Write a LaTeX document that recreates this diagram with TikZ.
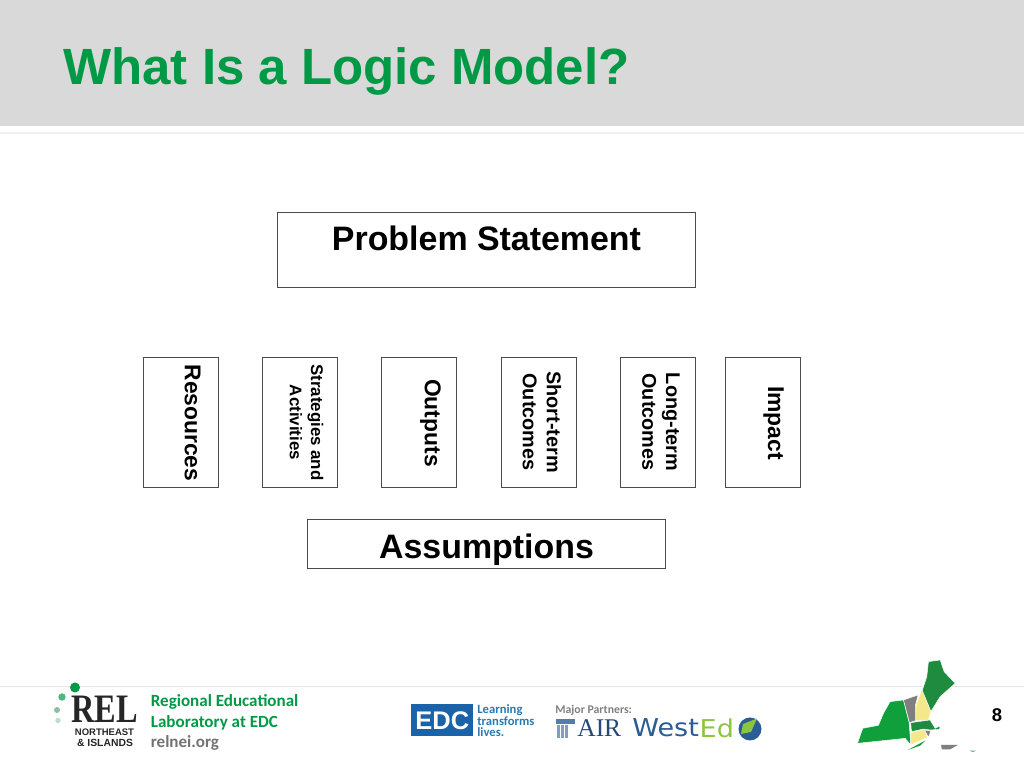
\documentclass[tikz,border=0pt]{standalone}
\usepackage{fontspec}
\setmainfont{Liberation Sans}
\newfontfamily\carlito{Carlito}
\newfontfamily\serifair{Liberation Serif}
\newfontfamily\dejavu{DejaVu Sans}
\definecolor{headergray}{HTML}{D9D9D9}
\definecolor{titlegreen}{HTML}{009A46}
\definecolor{mapdark}{HTML}{1E8B3F}
\definecolor{mapgreen}{HTML}{0FA03C}
\definecolor{mapyellow}{HTML}{F5E88A}
\definecolor{mapgray}{HTML}{7F7F7F}
\definecolor{edcblue}{HTML}{1B63A8}
\definecolor{learnblue}{HTML}{2A7AB0}
\definecolor{westblue}{HTML}{2C5C94}
\definecolor{westgreen}{HTML}{8CC63F}
\tikzset{
  boxnode/.style={draw=black!70,line width=0.6pt,fill=white,inner sep=0pt},
  vertbox/.style={boxnode,anchor=north west,minimum width=1.49cm,minimum height=2.6cm},
  vertlabel/.style={rotate=-90,font=\bfseries\fontsize{13pt}{15pt}\selectfont,align=center,inner sep=0pt},
  vertsmall/.style={vertlabel,font=\bfseries\fontsize{9.6pt}{12pt}\selectfont},
  vertmedium/.style={vertlabel,font=\bfseries\fontsize{11.3pt}{13.6pt}\selectfont},
  bigtext/.style={anchor=base,font=\bfseries\fontsize{19.3pt}{21pt}\selectfont},
  footnode/.style={anchor=west,inner sep=0pt,font=\carlito\bfseries\fontsize{9.7pt}{11pt}\selectfont},
  relnode/.style={inner sep=0pt,font=\bfseries\fontsize{5.4pt}{6pt}\selectfont,text=black!85},
  westnode/.style={anchor=west,xscale=1.1,font=\dejavu\fontsize{14pt}{14pt}\selectfont},
  mapstate/.style={draw=white,line width=0.25pt},
}
\begin{document}
\begin{tikzpicture}[inner sep=0pt]
  \useasboundingbox (0,0) rectangle (20.48,15.36);
  \fill[white] (0,0) rectangle (20.48,15.36);

  % header band
  \fill[headergray] (0,12.84) rectangle (20.48,15.36);
  \fill[black!6] (0,12.68) rectangle (20.48,12.72);
  \node[anchor=base west,text=titlegreen,font=\bfseries\fontsize{29pt}{31pt}\selectfont] (title) at (1.26,13.66) {What Is a Logic Model?};

  % diagram boxes
  \node[boxnode,anchor=north west,minimum width=8.36cm,minimum height=1.5cm] (problem) at (5.54,11.12) {};
  \node[bigtext] (problemtext) at (9.73,10.34) {Problem Statement};

  \node[vertbox] (resources) at (2.86,8.22) {};
  \node[vertbox] (strategies) at (5.24,8.22) {};
  \node[vertbox] (outputs) at (7.62,8.22) {};
  \node[vertbox] (shortterm) at (10.02,8.22) {};
  \node[vertbox] (longterm) at (12.4,8.22) {};
  \node[vertbox] (impact) at (14.5,8.22) {};

  \node[vertlabel] (resourcestext) at (3.85,6.9) {Resources};
  \node[vertsmall] (strategiestext) at (6.13,6.91) {Strategies and\\Activities};
  \node[vertlabel] (outputstext) at (8.61,6.9) {Outputs};
  \node[vertmedium] (shorttermtext) at (10.84,6.92) {Short-term\\Outcomes};
  \node[vertmedium] (longtermtext) at (13.22,6.92) {Long-term\\Outcomes};
  \node[vertlabel] (impacttext) at (15.47,6.9) {Impact};

  \node[boxnode,anchor=north west,minimum width=7.16cm,minimum height=0.98cm] (assumptions) at (6.14,4.98) {};
  \node[bigtext] (assumptionstext) at (9.73,4.18) {Assumptions};

  % footer
  \fill[black!10] (0,1.61) rectangle (20.48,1.63);

  % REL logo
  \fill[titlegreen] (1.5,1.61) circle (0.1);
  \fill[titlegreen!70!white] (1.24,1.42) circle (0.074);
  \fill[black!25!titlegreen!45!white] (1.14,1.16) circle (0.06);
  \fill[black!25!titlegreen!25!white] (1.16,0.95) circle (0.054);
  \node[relnode,font=\serifair\bfseries\fontsize{23pt}{24pt}\selectfont,xscale=.8] (rel) at (2.09,1.17) {REL};
  \node[relnode] (relnortheast) at (2.09,0.72) {NORTHEAST};
  \node[relnode,font=\bfseries\fontsize{5.9pt}{6pt}\selectfont] (relislands) at (2.1,0.5) {\& ISLANDS};
  \node[footnode,text=titlegreen] (regional) at (3.01,1.33) {Regional Educational};
  \node[footnode,text=titlegreen] (laboratory) at (3.01,0.91) {Laboratory at EDC};
  \node[footnode,text=black!55] (relnei) at (3.01,0.51) {relnei.org};

  % EDC logo
  \node[fill=edcblue,text=white,anchor=north west,minimum width=1.24cm,minimum height=0.64cm,font=\bfseries\fontsize{14.5pt}{15pt}\selectfont] (edc) at (8.22,1.28) {EDC};
  \node[anchor=west,align=left,text=learnblue,font=\carlito\bfseries\fontsize{7.2pt}{6.6pt}\selectfont] (learning) at (9.54,0.946) {Learning\\transforms\\lives.};

  % partners
  \node[anchor=west,text=black!50,font=\carlito\bfseries\fontsize{6.7pt}{7pt}\selectfont] (partners) at (11.1,1.16) {Major Partners:};
  \fill[westblue!80!white] (11.12,0.88) rectangle (11.5,0.98);
  \foreach \x in {11.14,11.22,11.3}
    \fill[westblue!60!white] (\x,0.6) rectangle (\x+0.06,0.86);
  \node[anchor=west,text=westblue!80!black,font=\serifair\fontsize{14.5pt}{15pt}\selectfont] (air) at (11.54,0.8) {AIR};
  \node[westnode,text=westblue] (west) at (12.64,0.8) {West};
  \node[westnode,text=westgreen] (ed) at (west.east) {Ed};
  \fill[westblue] (15,0.78) circle (0.23);
  \fill[westgreen] (14.86,0.88) -- (15.14,0.99) -- (15.02,0.72) -- (14.82,0.68) -- cycle;

  % map of the northeast
  \begin{scope}[x=0.00667cm,y=-0.00667cm,shift={(2520,-354)}]
    % zoom coordinates of the crop, 3 units to a pixel
    \fill[mapgreen,mapstate] (150,155) -- (190,150) -- (207,218) -- (212,285) -- (195,265) -- (52,280) -- (68,235) -- (115,226) -- (130,190) -- cycle;
    \fill[mapgreen] (203,300) -- (255,272) -- (240,287) -- cycle;
    \fill[mapdark,mapstate] (265,35) -- (300,30) -- (312,65) -- (345,100) -- (300,140) -- (272,185) -- (262,160) -- (245,125) -- (260,80) -- cycle;
    \fill[mapyellow,mapstate] (245,118) -- (262,160) -- (272,185) -- (265,210) -- (226,212) -- (228,165) -- cycle;
    \fill[mapgray,mapstate] (190,150) -- (234,135) -- (226,165) -- (226,212) -- (208,218) -- cycle;
    \fill[mapdark,mapstate] (212,218) -- (270,210) -- (285,235) -- (300,228) -- (298,238) -- (270,240) -- (250,237) -- (214,245) -- cycle;
    \fill[mapyellow,mapstate] (212,248) -- (252,238) -- (262,262) -- (212,285) -- cycle;
    \fill[mapgray,mapstate] (253,240) -- (272,243) -- (265,262) -- cycle;
    \fill[mapgray] (303,285) -- (353,285) -- (330,298) -- (305,298) -- cycle;
    \fill[mapdark!70!white] (388,302) -- (408,302) -- (398,306) -- cycle;
  \end{scope}

  % page number
  \node[font=\bfseries\fontsize{10.5pt}{12pt}\selectfont] (pagenum) at (19.94,1.06) {8};
\end{tikzpicture}
\end{document}
